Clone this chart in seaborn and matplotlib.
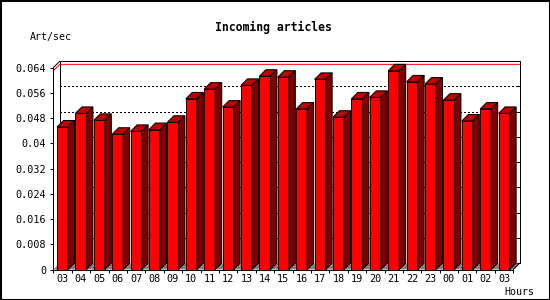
import numpy as np
import pandas as pd
import matplotlib
matplotlib.use("Agg")
import matplotlib.pyplot as plt
from matplotlib.patches import Polygon, Rectangle
from matplotlib.lines import Line2D
import seaborn as sns

# ---- data ----
hours = ["03", "04", "05", "06", "07", "08", "09", "10", "11", "12", "13", "14",
         "15", "16", "17", "18", "19", "20", "21", "22", "23", "00", "01", "02", "03"]
rate = [0.0452, 0.0495, 0.0473, 0.0429, 0.0438, 0.0444, 0.0467, 0.0541, 0.0572,
        0.0515, 0.0584, 0.0613, 0.0610, 0.0509, 0.0603, 0.0483, 0.0541, 0.0546,
        0.0630, 0.0595, 0.0588, 0.0537, 0.0471, 0.0509, 0.0495]
y_tick_values = [0, 0.008, 0.016, 0.024, 0.032, 0.04, 0.048, 0.056, 0.064]
y_tick_labels = ["0", "0.008", "0.016", "0.024", "0.032", "0.04", "0.048", "0.056", "0.064"]
title = "Incoming articles"
y_title = "Art/sec"
x_title = "Hours"

df = pd.DataFrame({"slot": np.arange(len(rate)), "rate": rate})

sns.set_style("white")
plt.rcParams["font.family"] = ["DejaVu Sans Mono", "DejaVu Sans"]

W, H, DPI = 550, 300, 100
fig = plt.figure(figsize=(W / DPI, H / DPI), dpi=DPI)
fig.patch.set_facecolor("white")

# axes placement (pixels)
ax_left, ax_right, ax_top, ax_bottom = 53.3, 513.3, 67.7, 269.5
ax = fig.add_axes([ax_left / W, 1 - ax_bottom / H,
                   (ax_right - ax_left) / W, (ax_bottom - ax_top) / H])
ax.set_facecolor("none")

FRONT, TOP, SIDE, FLOOR = "#FF0000", "#C00000", "#800000", "#808080"
LW = 0.72  # 1 px

sns.barplot(data=df, x="slot", y="rate", color=FRONT, saturation=1,
            edgecolor="black", linewidth=LW, width=0.6, errorbar=None, ax=ax,
            zorder=5)

xmin, xmax = -0.5, len(rate) - 0.5
ymin, ymax = 0, y_tick_values[-1]
ax.set_xlim(xmin, xmax)
ax.set_ylim(ymin, ymax)

# depth offset, 6.5 px converted to data units
depth_px = 6.5
dxd = depth_px * (xmax - xmin) / (ax_right - ax_left)
dyd = depth_px * (ymax - ymin) / (ax_bottom - ax_top)

# floor
ax.add_patch(Polygon([(xmin, 0), (xmax, 0), (xmax + dxd, dyd), (xmin + dxd, dyd)],
                     closed=True, facecolor=FLOOR, edgecolor="none", zorder=1,
                     clip_on=False))
# back wall fill (white) and outline
ax.add_patch(Rectangle((xmin + dxd, dyd), xmax - xmin, ymax - ymin,
                       facecolor="white", edgecolor="black", linewidth=LW,
                       zorder=0.5, clip_on=False))
# back gridlines (dotted)
for v in y_tick_values[1:-1]:
    ax.add_line(Line2D([xmin + dxd, xmax + dxd], [v + dyd, v + dyd], color="black",
                       linewidth=LW, linestyle=(0, (1.4, 2.2)), zorder=1.5,
                       clip_on=False, antialiased=False))
# right-side small ticks on back wall
tick_d = 3 * (xmax - xmin) / (ax_right - ax_left)
for v in y_tick_values:
    ax.add_line(Line2D([xmax + dxd - tick_d, xmax + dxd], [v + dyd, v + dyd],
                       color="black", linewidth=LW, zorder=1.6, clip_on=False))
# max line (red)
vmax = max(rate)
ax.add_line(Line2D([xmin, xmin + dxd, xmax + dxd], [vmax, vmax + dyd, vmax + dyd],
                   color="#FF0000", linewidth=LW, zorder=2, clip_on=False))
# left wall top diagonal and bottom-right diagonal
ax.add_line(Line2D([xmin, xmin + dxd], [ymax, ymax + dyd], color="black",
                   linewidth=LW, zorder=2, clip_on=False))
ax.add_line(Line2D([xmax, xmax + dxd], [0, dyd], color="black",
                   linewidth=LW, zorder=6, clip_on=False))

# 3D faces of bars
for p in list(ax.patches):
    if not isinstance(p, Rectangle) or p.get_zorder() != 5:
        continue
    x0, w, h = p.get_x(), p.get_width(), p.get_height()
    x1 = x0 + w
    top = Polygon([(x0, h), (x1, h), (x1 + dxd, h + dyd), (x0 + dxd, h + dyd)],
                  closed=True, facecolor=TOP, edgecolor="black", linewidth=LW,
                  zorder=5, clip_on=False)
    side = Polygon([(x1, 0), (x1, h), (x1 + dxd, h + dyd), (x1 + dxd, dyd)],
                   closed=True, facecolor=SIDE, edgecolor="black", linewidth=LW,
                   zorder=5, clip_on=False)
    ax.add_patch(top)
    ax.add_patch(side)

# spines
for s in ["top", "right"]:
    ax.spines[s].set_visible(False)
for s in ["left", "bottom"]:
    ax.spines[s].set_color("black")
    ax.spines[s].set_linewidth(LW)
    ax.spines[s].set_zorder(6)

# ticks
ax.set_yticks(y_tick_values)
ax.set_yticklabels(y_tick_labels)
ax.set_xticks(np.arange(xmin, xmax + 0.01, 1.0))
ax.set_xticklabels([""] * len(np.arange(xmin, xmax + 0.01, 1.0)))
ax.set_xticks(np.arange(len(hours)), minor=True)
ax.set_xticklabels(hours, minor=True)
ax.tick_params(axis="both", which="major", direction="out", length=2.4, width=LW,
               color="black", labelsize=7.3, labelcolor="black")
ax.tick_params(axis="y", pad=2.8, left=True)
ax.tick_params(axis="x", which="major", bottom=True)
ax.tick_params(axis="x", which="minor", length=0, pad=3.6, labelsize=7.3,
               labelcolor="black", bottom=True)
ax.set_xlabel("")
ax.set_ylabel("")

# texts
fig.text(273.8 / W, 1 - 27.3 / H, title, ha="center", va="center",
         fontsize=8.3, fontweight="bold", color="black")
fig.text(30 / W, 1 - 37 / H, y_title, ha="left", va="center", fontsize=7.2,
         color="black")
fig.text(534 / W, 1 - 292 / H, x_title, ha="right", va="center", fontsize=7.2,
         color="black")

# figure border
fig.add_artist(Rectangle((0, 0), 1, 1, transform=fig.transFigure, fill=False,
                         edgecolor="black", linewidth=2.2))

fig.savefig("out.png", dpi=DPI)
